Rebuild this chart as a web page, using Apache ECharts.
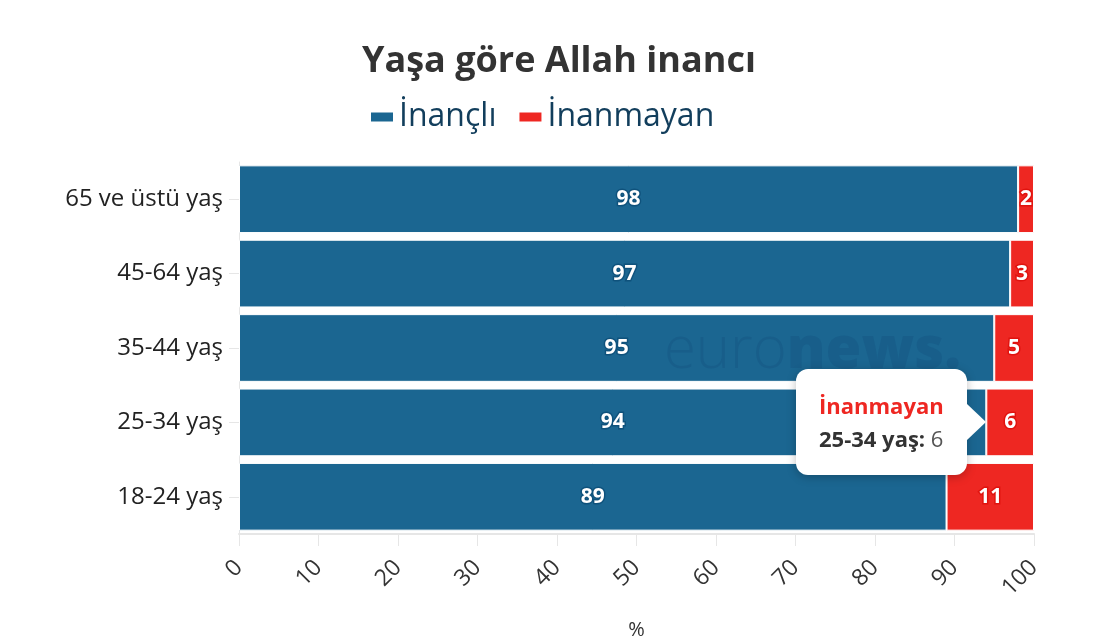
<!DOCTYPE html>
<html>
<head>
<meta charset="utf-8">
<script src="https://cdn.jsdelivr.net/npm/echarts@6/dist/echarts.min.js"></script>
<style>
html,body{margin:0;padding:0;background:#fff;}
#chart{width:1095px;height:641px;}
</style>
</head>
<body>
<div id="chart"></div>
<script>
const categories = ['18-24 yaş', '25-34 yaş', '35-44 yaş', '45-64 yaş', '65 ve üstü yaş'];
const believers = [89, 94, 95, 97, 98];
const nonBelievers = [11, 6, 5, 3, 2];
const seriesNames = ['İnançlı', 'İnanmayan'];
const xTicks = [0, 10, 20, 30, 40, 50, 60, 70, 80, 90, 100];

const BLUE = '#1b6691';
const RED = '#ee2722';
const FONT = '"Open Sans", sans-serif';

const chart = echarts.init(document.getElementById('chart'));

function labelCfg(border) {
  return {
    show: true,
    position: 'inside',
    color: '#fff',
    fontFamily: FONT,
    fontWeight: 'bold',
    fontSize: 21,
    textBorderColor: border,
    textBorderWidth: 3
  };
}

const option = {
  animation: false,
  title: {
    text: 'Yaşa göre Allah inancı',
    left: 357,
    top: 39,
    textStyle: { fontFamily: FONT, fontSize: 36, fontWeight: 'bold', color: '#333333' }
  },
  legend: {
    top: 96,
    left: 364,
    itemWidth: 24,
    itemHeight: 11,
    itemGap: 21,
    icon: 'rect',
    textStyle: { fontFamily: FONT, fontSize: 32, color: '#123e5c' },
    data: seriesNames
  },
  grid: { left: 239, right: 61, top: 162, bottom: 107, outerBoundsMode: 'none', containLabel: false },
  tooltip: {
    trigger: 'item',
    alwaysShowContent: true,
    transitionDuration: 0,
    backgroundColor: '#ffffff',
    borderWidth: 0,
    padding: [20, 23, 20, 23],
    extraCssText: 'border-radius:12px;box-shadow:0 2px 10px rgba(0,0,0,0.25);overflow:visible;',
    position: function (point, params, dom, rect, size) {
      const w = size.contentSize[0], h = size.contentSize[1];
      return [rect.x - w - 19, rect.y + rect.height / 2 - h / 2];
    },
    formatter: function (p) {
      return '<div style="position:relative;font-family:\'Open Sans\',sans-serif;font-size:22px;line-height:33px;">' +
        '<div style="color:' + p.color + ';font-weight:bold;">' + p.seriesName + '</div>' +
        '<div><b style="color:#333;">' + p.name + ':</b> <span style="color:#555;">' + p.value + '</span></div>' +
        '<div style="position:absolute;right:-42px;top:50%;margin-top:-18px;width:0;height:0;border-top:18px solid transparent;border-bottom:18px solid transparent;border-left:19px solid #fff;"></div>' +
        '</div>';
    }
  },
  xAxis: {
    type: 'value',
    min: 0,
    max: 100,
    interval: 10,
    name: '%',
    nameLocation: 'middle',
    nameGap: 86,
    nameTextStyle: { fontFamily: FONT, fontSize: 20, color: '#333' },
    axisLine: { show: true, lineStyle: { color: '#e6e6e6', width: 2 } },
    axisTick: { show: true, length: 12, lineStyle: { color: '#e6e6e6', width: 1 } },
    axisLabel: {
      rotate: 45,
      margin: 30,
      padding: [18, 0, 0, 0],
      fontFamily: FONT,
      fontSize: 23,
      color: '#333',
      formatter: function (v) { return xTicks.indexOf(v) >= 0 ? String(v) : ''; }
    },
    splitLine: { show: false }
  },
  yAxis: {
    type: 'category',
    data: categories,
    axisLine: { show: true, lineStyle: { color: '#e6e6e6', width: 1 } },
    axisTick: { show: true, alignWithLabel: true, length: 10, lineStyle: { color: '#e6e6e6' } },
    axisLabel: { fontFamily: FONT, fontSize: 24, color: '#222', margin: 16 }
  },
  series: [
    {
      name: seriesNames[0],
      type: 'bar',
      stack: 'total',
      barCategoryGap: '9%',
      data: believers,
      itemStyle: { color: BLUE, borderColor: '#ffffff', borderWidth: 1 },
      label: labelCfg('#0f527c'),
      emphasis: { disabled: true }
    },
    {
      name: seriesNames[1],
      type: 'bar',
      stack: 'total',
      barCategoryGap: '9%',
      data: nonBelievers,
      itemStyle: { color: RED, borderColor: '#ffffff', borderWidth: 1 },
      label: labelCfg('#e0130f'),
      emphasis: { disabled: true }
    }
  ],
  graphic: [
    {
      type: 'text',
      left: 664,
      top: 322,
      z: 100,
      silent: true,
      style: {
        text: '{a|euro}{b|news.}',
        rich: {
          a: { fontFamily: FONT, fontSize: 58, fontWeight: 300, fill: 'rgba(10,60,110,0.18)' },
          b: { fontFamily: FONT, fontSize: 58, fontWeight: 800, fill: 'rgba(10,60,110,0.18)' }
        }
      }
    }
  ]
};

chart.setOption(option);
chart.dispatchAction({ type: 'showTip', seriesIndex: 1, dataIndex: 1 });
</script>
</body>
</html>
